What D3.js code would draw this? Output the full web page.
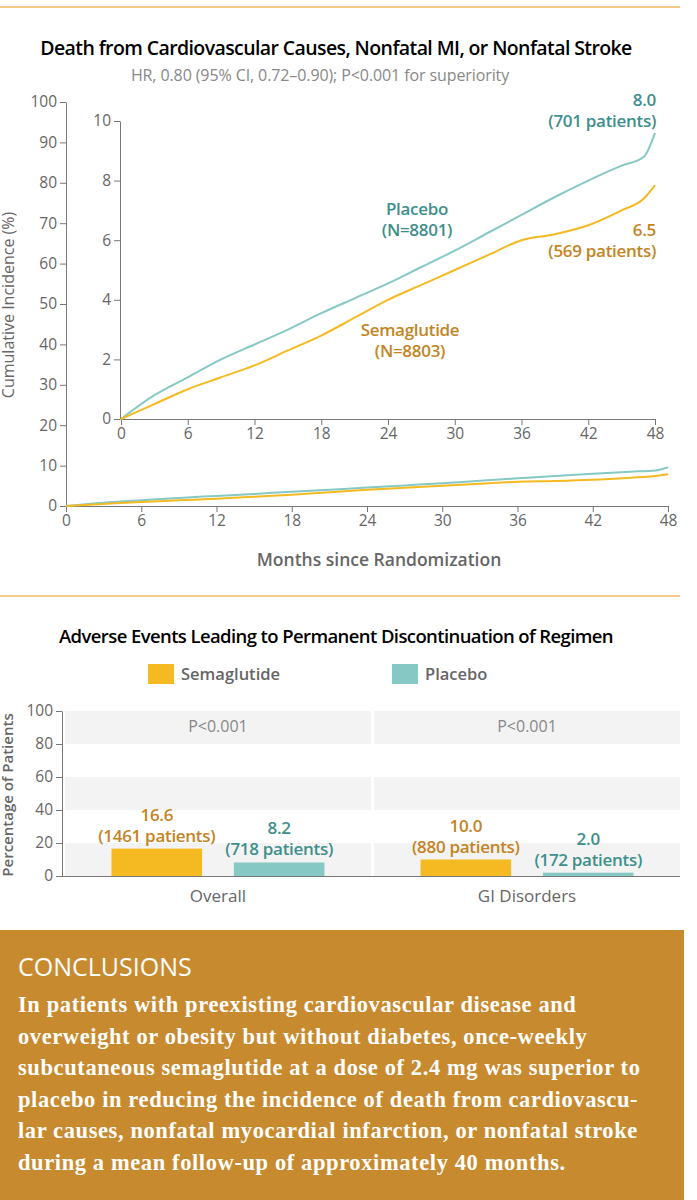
<!DOCTYPE html>
<html><head><meta charset="utf-8">
<script src="https://cdn.jsdelivr.net/npm/d3@7"></script>
<style>body{margin:0;background:#fff}</style>
</head><body>
<script>
// Kaplan-Meier style curves (month, cumulative %)
const months = [0, 3, 6, 9, 12, 15, 18, 21, 24, 27, 30, 33, 36, 39, 42, 45, 47, 48];
const placebo = [0, 0.8, 1.4, 2.0, 2.5, 3.0, 3.55, 4.05, 4.55, 5.1, 5.65, 6.25, 6.85, 7.45, 8.0, 8.5, 8.8, 9.6];
const semaglutide = [0, 0.5, 1.0, 1.4, 1.8, 2.3, 2.8, 3.4, 4.0, 4.5, 5.0, 5.5, 6.0, 6.2, 6.5, 7.0, 7.4, 7.85];
const monthTicks = [0, 6, 12, 18, 24, 30, 36, 42, 48];
const mainYTicks = [0, 10, 20, 30, 40, 50, 60, 70, 80, 90, 100];
const insetYTicks = [0, 2, 4, 6, 8, 10];

// adverse events bar chart
const groups = ["Overall", "GI Disorders"];
const semaPct = [16.6, 10.0];
const semaN = ["(1461 patients)", "(880 patients)"];
const placPct = [8.2, 2.0];
const placN = ["(718 patients)", "(172 patients)"];
const pvals = ["P<0.001", "P<0.001"];
const barYTicks = [0, 20, 40, 60, 80, 100];

const orange = "#f5b921", orangeText = "#c4841f", teal = "#86c9c4", tealText = "#3e8f8b", gray = "#666";
const font = "'Open Sans', sans-serif";

const svg = d3.select("body").append("svg").attr("width", 697).attr("height", 1200)
  .style("font-family", font);

svg.append("line").attr("x1", 0).attr("x2", 680).attr("y1", 7).attr("y2", 7)
  .attr("stroke", "#f6c88a").attr("stroke-width", 2);
svg.append("text").attr("x", 336).attr("y", 55).attr("text-anchor", "middle")
  .attr("font-size", 19.5).attr("font-weight", 600).attr("letter-spacing", -0.6).text("Death from Cardiovascular Causes, Nonfatal MI, or Nonfatal Stroke");
svg.append("text").attr("x", 320).attr("y", 81).attr("text-anchor", "middle")
  .attr("font-size", 16).attr("fill", "#888").attr("letter-spacing", -0.1).text("HR, 0.80 (95% CI, 0.72\u20130.90); P<0.001 for superiority");

function styleAxis(g) {
  g.selectAll("path,line").attr("stroke", "#777");
  g.selectAll("text").attr("fill", gray).attr("font-size", 15.5).attr("font-family", font);
}

// main plot
const x = d3.scaleLinear().domain([0, 48]).range([66, 668]);
const y = d3.scaleLinear().domain([0, 100]).range([506, 102]);
const line = (xs, ys) => d3.line().x((d, i) => xs(months[i])).y(d => ys(d)).curve(d3.curveMonotoneX);

svg.append("g").attr("transform", "translate(0,506)")
  .call(d3.axisBottom(x).tickValues(monthTicks).tickSize(6).tickSizeOuter(0)).call(styleAxis);
svg.append("g").attr("transform", "translate(66,0)")
  .call(d3.axisLeft(y).tickValues(mainYTicks).tickSize(6).tickSizeOuter(0)).call(styleAxis);
svg.append("text").attr("transform", "translate(14,305) rotate(-90)").attr("text-anchor", "middle")
  .attr("font-size", 16).attr("fill", gray).text("Cumulative Incidence (%)");
svg.append("text").attr("x", 379).attr("y", 566).attr("text-anchor", "middle")
  .attr("font-size", 17.5).attr("font-weight", 600).attr("fill", gray).text("Months since Randomization");

svg.append("path").datum(placebo).attr("d", line(x, y)).attr("fill", "none").attr("stroke", teal).attr("stroke-width", 2);
svg.append("path").datum(semaglutide).attr("d", line(x, y)).attr("fill", "none").attr("stroke", orange).attr("stroke-width", 2);

// inset
const xi = d3.scaleLinear().domain([0, 48]).range([121, 655]);
const yi = d3.scaleLinear().domain([0, 10]).range([419, 121]);
svg.append("g").attr("transform", "translate(0,419)")
  .call(d3.axisBottom(xi).tickValues(monthTicks).tickSize(6).tickSizeOuter(0)).call(styleAxis);
svg.append("g").attr("transform", "translate(120,0)")
  .call(d3.axisLeft(yi).tickValues(insetYTicks).tickSize(6).tickSizeOuter(0)).call(styleAxis);
svg.append("path").datum(placebo).attr("d", line(xi, yi)).attr("fill", "none").attr("stroke", teal).attr("stroke-width", 2);
svg.append("path").datum(semaglutide).attr("d", line(xi, yi)).attr("fill", "none").attr("stroke", orange).attr("stroke-width", 2);

function label(xp, yp, lines, color, anchor) {
  const t = svg.append("text").attr("x", xp).attr("y", yp).attr("text-anchor", anchor)
    .attr("font-size", 17).attr("font-weight", 600).attr("fill", color).attr("letter-spacing", -0.3);
  lines.forEach((s, i) => t.append("tspan").attr("x", xp).attr("dy", i ? 21 : 0).text(s));
}
label(417, 215, ["Placebo", "(N=8801)"], tealText, "middle");
label(410, 336, ["Semaglutide", "(N=8803)"], orangeText, "middle");
label(656, 106, ["8.0", "(701 patients)"], tealText, "end");
label(656, 236, ["6.5", "(569 patients)"], orangeText, "end");

// separator
svg.append("line").attr("x1", 0).attr("x2", 680).attr("y1", 596).attr("y2", 596)
  .attr("stroke", "#f6c88a").attr("stroke-width", 2);

svg.append("text").attr("x", 336).attr("y", 643).attr("text-anchor", "middle")
  .attr("font-size", 18.5).attr("font-weight", 600).attr("letter-spacing", -0.6).text("Adverse Events Leading to Permanent Discontinuation of Regimen");

// legend
[[148, orange, "Semaglutide"], [392, teal, "Placebo"]].forEach(([lx, c, s]) => {
  svg.append("rect").attr("x", lx).attr("y", 664).attr("width", 26).attr("height", 20).attr("fill", c);
  svg.append("text").attr("x", lx + 33).attr("y", 680).attr("font-size", 16.5).attr("font-weight", 600)
    .attr("fill", gray).text(s);
});

const yb = d3.scaleLinear().domain([0, 100]).range([876, 711]);
const xb = d3.scaleBand().domain(groups).range([65, 680]).paddingInner(0.01);
const inner = d3.scaleBand().domain(["s", "p"]).range([0, xb.bandwidth()]).paddingInner(0.26).paddingOuter(0.38);

// alternating background bands
groups.forEach(g => {
  [[80, 100], [40, 60], [0, 20]].forEach(([a, b]) => {
    svg.append("rect").attr("x", xb(g)).attr("width", xb.bandwidth())
      .attr("y", yb(b)).attr("height", yb(a) - yb(b)).attr("fill", "#f3f3f3");
  });
});

groups.forEach((g, i) => {
  const sx = xb(g) + inner("s"), px = xb(g) + inner("p"), w = inner.bandwidth();
  svg.append("rect").attr("x", sx).attr("width", w).attr("y", yb(semaPct[i])).attr("height", yb(0) - yb(semaPct[i])).attr("fill", orange);
  svg.append("rect").attr("x", px).attr("width", w).attr("y", yb(placPct[i])).attr("height", yb(0) - yb(placPct[i])).attr("fill", teal);
  label(sx + w / 2, yb(semaPct[i]) - 28, [semaPct[i].toFixed(1), semaN[i]], orangeText, "middle");
  label(px + w / 2, yb(placPct[i]) - 28, [placPct[i].toFixed(1), placN[i]], tealText, "middle");
  svg.append("text").attr("x", xb(g) + xb.bandwidth() / 2).attr("y", 732).attr("text-anchor", "middle")
    .attr("font-size", 16).attr("fill", "#888").text(pvals[i]);
  svg.append("text").attr("x", xb(g) + xb.bandwidth() / 2).attr("y", 902).attr("text-anchor", "middle")
    .attr("font-size", 17).attr("fill", gray).text(g);
});

svg.append("g").attr("transform", "translate(0,876)")
  .call(d3.axisBottom(xb).tickValues([]).tickSizeOuter(0)).call(styleAxis)
  .select("path").attr("d", "M58,0.5H680");
svg.append("g").attr("transform", "translate(62,0)")
  .call(d3.axisLeft(yb).tickValues(barYTicks).tickSize(6).tickSizeOuter(0)).call(styleAxis);
svg.append("text").attr("transform", "translate(13,795) rotate(-90)").attr("text-anchor", "middle")
  .attr("font-size", 15).attr("font-weight", 600).attr("fill", gray).text("Percentage of Patients");

// conclusions box
svg.append("rect").attr("x", 0).attr("y", 930).attr("width", 684).attr("height", 270).attr("fill", "#c88a2e");
svg.append("text").attr("x", 18).attr("y", 976).attr("font-size", 25).attr("fill", "#fff").attr("font-weight", 500)
  .text("CONCLUSIONS");
const concl = [
  "In patients with preexisting cardiovascular disease and",
  "overweight or obesity but without diabetes, once-weekly",
  "subcutaneous semaglutide at a dose of 2.4 mg was superior to",
  "placebo in reducing the incidence of death from cardiovascu-",
  "lar causes, nonfatal myocardial infarction, or nonfatal stroke",
  "during a mean follow-up of approximately 40 months."
];
concl.forEach((s, i) => svg.append("text").attr("x", 18).attr("y", 1012 + i * 31.6)
  .attr("font-family", "'Liberation Serif', serif").attr("font-weight", 700).attr("font-size", 22.5)
  .attr("letter-spacing", 0.6).attr("fill", "#fff").text(s));
</script>
</body></html>
